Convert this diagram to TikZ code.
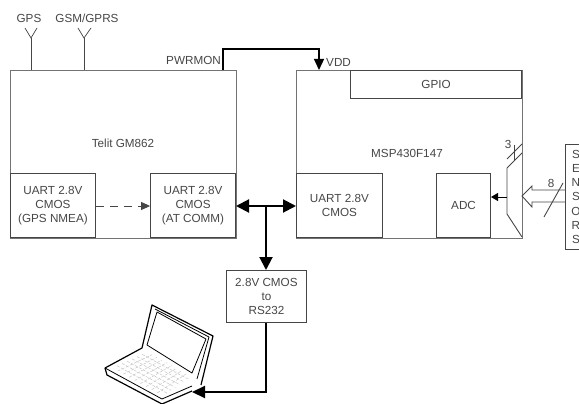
\documentclass[tikz,border=0pt]{standalone}
\usepackage{fontspec}
\setmainfont{Liberation Sans}
\usetikzlibrary{arrows.meta, positioning, calc}
\definecolor{boxgray}{RGB}{115,115,115}
\definecolor{innergray}{RGB}{70,70,70}
\definecolor{labelgray}{RGB}{70,70,70}
\tikzset{
  outerbox/.style={draw=boxgray, line width=1pt, inner sep=0pt, align=center, text=labelgray, font=\fontsize{11.7}{14.2}\selectfont},
  innerbox/.style={outerbox, draw=innergray, line width=0.9pt},
  pinlabel/.style={inner sep=0pt, text=labelgray, font=\fontsize{11.7}{14.2}\selectfont},
  busline/.style={line width=2pt, black},
  bushead/.tip={Triangle[length=13pt,width=13pt]},
  thinline/.style={draw=innergray, line width=0.9pt}
}
\begin{document}
\begin{tikzpicture}[x=1pt,y=-1pt]
  \useasboundingbox (0,0) rectangle (579,404);
  % --- Telit ---
  \node[outerbox, anchor=north west, minimum width=226, minimum height=168] (telit) at (10,70) {};
  \node[pinlabel] (telitname) at (123,143) {Telit GM862};
  \node[innerbox, anchor=south west, minimum width=85, minimum height=64] (uartgps) at (10,238) {UART 2.8V\\CMOS\\(GPS NMEA)};
  \node[innerbox, anchor=south east, minimum width=85, minimum height=64] (uartat) at (236,238) {UART 2.8V\\CMOS\\(AT COMM)};
  % --- MSP ---
  \node[outerbox, anchor=north west, minimum width=226, minimum height=168] (msp) at (296,70) {};
  \node[pinlabel] (mspname) at (407,153) {MSP430F147};
  \node[innerbox, anchor=north east, minimum width=171, minimum height=28] (gpio) at (522,70) {GPIO};
  \node[innerbox, anchor=south west, minimum width=86, minimum height=64] (uartmsp) at (296,238) {UART 2.8V\\CMOS};
  \node[innerbox, anchor=south east, minimum width=54, minimum height=64] (adc) at (491,238) {ADC};
  % --- Konwerter i czujniki ---
  \node[innerbox, anchor=north west, minimum width=80, minimum height=52] (conv) at (226,270) {2.8V CMOS\\to\\RS232};
  \node[innerbox, anchor=north west, minimum width=21, minimum height=105] (sensors) at (565,144) {S\\E\\N\\S\\O\\R\\S};
  % --- Anteny ---
  \node[pinlabel] (gpslabel) at (29,18) {GPS};
  \node[pinlabel] (gsmlabel) at (87,18) {GSM/GPRS};
  \coordinate (gpstip) at (31,38);
  \coordinate (gsmtip) at (84,38);
  \draw[thinline] (gpstip) -- (gpstip |- telit.north);
  \draw[thinline] (gsmtip) -- (gsmtip |- telit.north);
  \draw[thinline, line width=0.7pt] (25,28) -- (gpstip) -- (37,28);
  \draw[thinline, line width=0.7pt] (78,28) -- (gsmtip) -- (91,28);
  % --- Zasilanie ---
  \node[pinlabel, anchor=east] (pwrmon) at (221,60) {PWRMON};
  \node[pinlabel, anchor=west] (vdd) at (326,62) {VDD};
  \coordinate (pwrstart) at (223,70);
  \coordinate (vddend) at (319,70);
  \draw[line width=1.2pt, -{Triangle[length=11pt,width=10pt]}] (pwrstart) -- (223,49) -- (319,49) -- (vddend);
  % --- Magistrala ---
  \coordinate (busjoin) at (266,206);
  \draw[busline, {bushead}-{bushead}] (uartat.east |- busjoin) -- (uartmsp.west |- busjoin);
  \draw[busline, -{bushead}] (busjoin) -- (conv.north -| busjoin);
  \draw[thinline, dash pattern=on 8pt off 6pt, -{Triangle[length=9pt,width=8pt]}] (uartgps.east |- busjoin) -- (uartat.west |- busjoin);
  % --- Mux ---
  \draw[thinline] (507,168) -- (522,153);
  \draw[thinline] (507,168) -- (507,214) -- (522,237);
  \draw[line width=0.9pt, -{Triangle[length=7pt,width=8pt]}] (507,197) -- (adc.east |- 0,197);
  \draw[thinline] (507,159) -- (522,144);
  \draw[thinline] (514,145) -- (514,161);
  \node[pinlabel] (muxbits) at (508,144) {3};
  % --- Szyna czujnikow ---
  \draw[thinline] (sensors.west |- 0,190) -- (532,190) -- (532,186) -- (522,196) -- (532,207) -- (532,202) -- (sensors.west |- 0,202);
  \draw[thinline] (544,217) -- (563,183);
  \node[pinlabel] (sensorbits) at (551,183) {8};
  % --- Laptop ---
  \coordinate (laptopport) at (192,392);
  \draw[busline, -{Triangle[length=13pt,width=12pt]}] (conv.south -| busjoin) -- (busjoin |- laptopport) -- (laptopport);
  \foreach \k in {1,...,6}
    \draw[gray!45, line width=0.5pt, dash pattern=on 3pt off 1.5pt] ($(112,368)!\k/7!(147,352)$) -- ($(163,396)!\k/7!(192,376)$);
  \foreach \k in {1,...,8}
    \draw[gray!45, line width=0.5pt, dash pattern=on 3pt off 1.5pt] ($(112,368)!\k/9!(163,396)$) -- ($(147,352)!\k/9!(192,376)$);
  \draw[line width=1.2pt, line join=round] (105,368) -- (142,348) -- (152,305) -- (213,336) -- (201,385);
  \draw[line width=0.8pt, line join=round] (155,309) -- (209,337) -- (197,379);
  \draw[line width=0.8pt, line join=round] (147,345) -- (157,312) -- (206,339) -- (192,373) -- cycle;
  \draw[line width=1.2pt, line join=round] (105,368) -- (107,375) -- (162,404) -- (192,391);
  \draw[line width=0.8pt, line join=round] (105,368) -- (162,399) -- (192,386);
\end{tikzpicture}
\end{document}
